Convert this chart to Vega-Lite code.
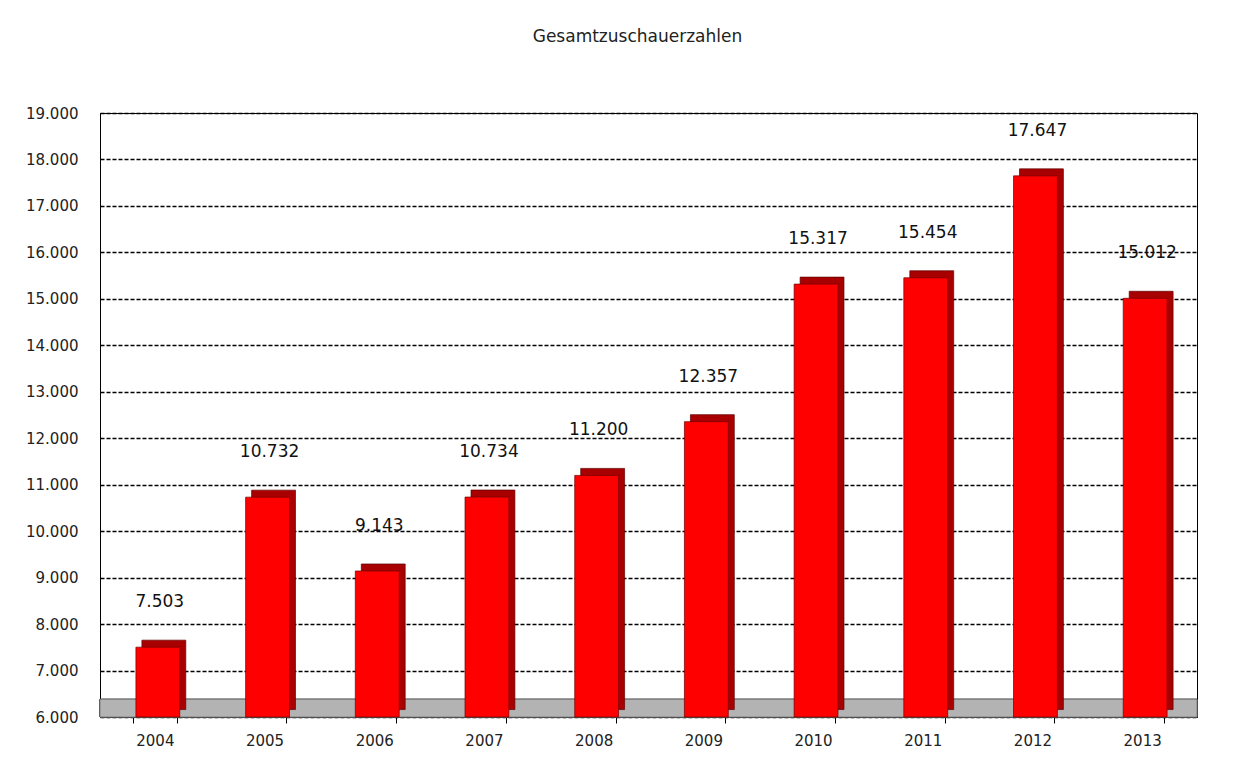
{
  "$schema": "https://vega.github.io/schema/vega-lite/v6.json",
  "width": 1097,
  "height": 604,
  "autosize": {"type": "none"},
  "padding": {"left": 100, "top": 113, "right": 42, "bottom": 48},
  "background": "white",
  "title": {
    "text": "Gesamtzuschauerzahlen",
    "font": "DejaVu Sans",
    "fontSize": 17,
    "fontWeight": "normal",
    "color": "#222222",
    "anchor": "middle",
    "offset": 60,
    "dx": -11
  },
  "config": {
    "locale": {
      "number": {"decimal": ",", "thousands": ".", "grouping": [3], "currency": ["", " €"]}
    },
    "view": {"stroke": "#000000", "strokeWidth": 1},
    "axis": {
      "labelFont": "DejaVu Sans",
      "labelColor": "#222222",
      "domainColor": "#000000",
      "tickColor": "#000000",
      "title": null
    }
  },
  "data": {
    "values": [
      {"Jahr": "2004", "Zuschauer": 7503},
      {"Jahr": "2005", "Zuschauer": 10732},
      {"Jahr": "2006", "Zuschauer": 9143},
      {"Jahr": "2007", "Zuschauer": 10734},
      {"Jahr": "2008", "Zuschauer": 11200},
      {"Jahr": "2009", "Zuschauer": 12357},
      {"Jahr": "2010", "Zuschauer": 15317},
      {"Jahr": "2011", "Zuschauer": 15454},
      {"Jahr": "2012", "Zuschauer": 17647},
      {"Jahr": "2013", "Zuschauer": 15012}
    ]
  },
  "encoding": {
    "x": {
      "field": "Jahr",
      "type": "nominal",
      "scale": {"paddingInner": 0.6, "paddingOuter": 0.3},
      "axis": {
        "labelAngle": 0,
        "labelFontSize": 15,
        "tickBand": "extent",
        "tickSize": 6,
        "labelPadding": 10,
        "grid": false
      }
    },
    "y": {
      "field": "Zuschauer",
      "type": "quantitative",
      "scale": {"domain": [6000, 19000], "nice": false, "zero": false},
      "axis": {
        "values": [6000, 7000, 8000, 9000, 10000, 11000, 12000, 13000, 14000, 15000, 16000, 17000, 18000, 19000],
        "format": ",d",
        "labelFontSize": 15,
        "ticks": false,
        "labelPadding": 22,
        "grid": true,
        "gridColor": "#000000",
        "gridDash": [4, 2],
        "gridWidth": 1.3
      }
    }
  },
  "layer": [
    {
      "mark": {"type": "rect", "color": "#b3b3b3", "stroke": "#555555", "strokeWidth": 0.5},
      "encoding": {
        "x": {"value": 0},
        "x2": {"value": 1097},
        "y": {"datum": 6000},
        "y2": {"datum": 6380}
      }
    },
    {
      "mark": {"type": "bar", "color": "#a80000", "xOffset": 9, "yOffset": -7, "stroke": "#600000", "strokeWidth": 0.7},
      "encoding": {"y2": {"datum": 6160}}
    },
    {
      "mark": {"type": "bar", "color": "#ff0000", "xOffset": 3, "stroke": "#700000", "strokeWidth": 0.7},
      "encoding": {"y2": {"datum": 6000}}
    },
    {
      "mark": {"type": "text", "font": "DejaVu Sans", "fontSize": 17, "color": "#111111", "dy": -36, "dx": 5, "baseline": "bottom"},
      "encoding": {
        "text": {"field": "Zuschauer", "type": "quantitative", "format": ",d"}
      }
    }
  ]
}
